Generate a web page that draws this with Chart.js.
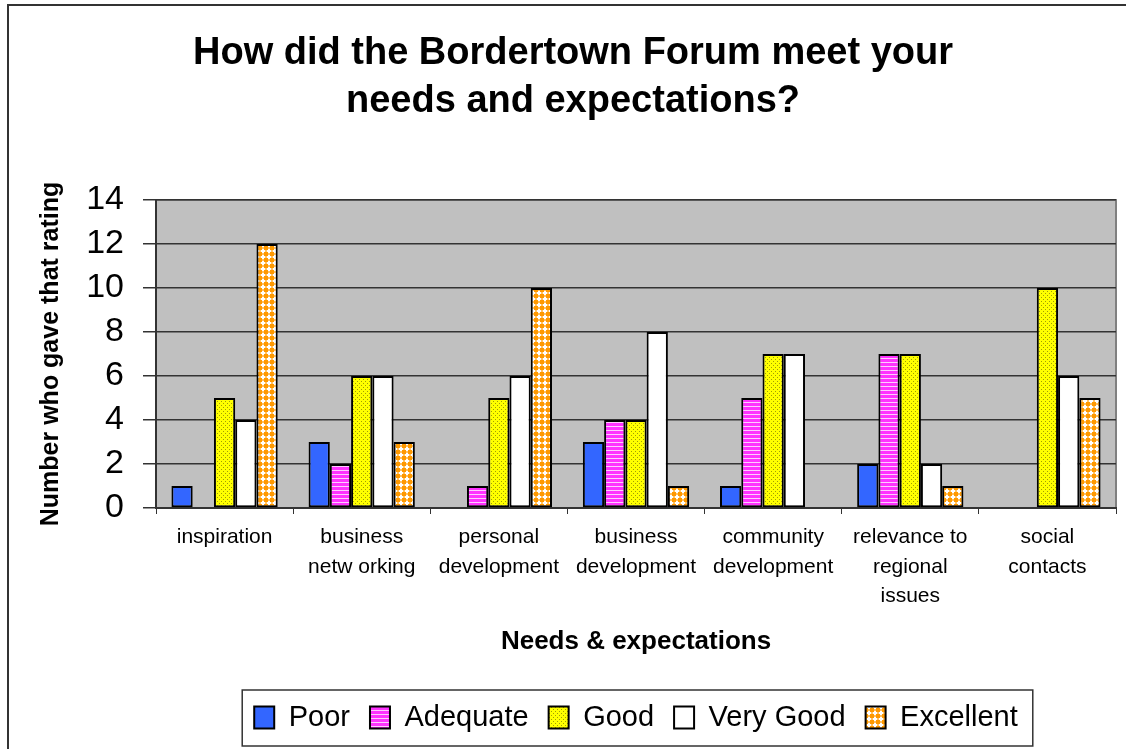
<!DOCTYPE html>
<html>
<head>
<meta charset="utf-8">
<script src="https://cdn.jsdelivr.net/npm/chart.js@4"></script>
<style>
  html, body { margin: 0; padding: 0; background: #fff; }
  #c { display: block; }
</style>
</head>
<body>
<canvas id="c" width="1126" height="749"></canvas>
<script>
// Categories and ratings
const cats = [
  'inspiration',
  ['business', 'netw orking'],
  ['personal', 'development'],
  ['business', 'development'],
  ['community', 'development'],
  ['relevance to', 'regional', 'issues'],
  ['social', 'contacts']
];
const poor      = [1, 3, 0, 3, 1, 2, 0];
const adequate  = [0, 2, 1, 4, 5, 7, 0];
const good      = [5, 6, 5, 4, 7, 7, 10];
const veryGood  = [4, 6, 6, 8, 7, 2, 6];
const excellent = [12, 3, 10, 1, 0, 1, 5];
const yTicks    = [0, 2, 4, 6, 8, 10, 12, 14];

const FONT = 'Liberation Sans, Arial, sans-serif';

// Small canvas patterns to mimic the old Excel fills
function mkPat(w, h, paint) {
  const cv = document.createElement('canvas');
  cv.width = w; cv.height = h;
  const g = cv.getContext('2d');
  paint(g);
  return g.createPattern(cv, 'repeat');
}
const ctx = document.getElementById('c').getContext('2d');

const patAdeq = mkPat(4, 4, g => {
  g.fillStyle = '#ff33ff'; g.fillRect(0, 0, 4, 4);
  g.fillStyle = '#ffccff'; g.fillRect(0, 2, 4, 1);
});
const patGood = mkPat(4, 4, g => {
  g.fillStyle = '#ffff00'; g.fillRect(0, 0, 4, 4);
  g.fillStyle = '#a0a000'; g.fillRect(1, 1, 1, 1); g.fillRect(3, 3, 1, 1);
});
const patExc = mkPat(6, 6, g => {
  g.fillStyle = '#ffffff'; g.fillRect(0, 0, 6, 6);
  g.fillStyle = '#ff9900'; g.fillRect(0, 0, 4, 4);
  g.fillStyle = '#ffc060'; g.fillRect(4, 1, 2, 2); g.fillRect(1, 4, 2, 2);
});

function ds(label, data, bg) {
  return {
    label: label,
    data: data,
    backgroundColor: bg,
    borderColor: '#000',
    borderWidth: 2,
    borderSkipped: false
  };
}

// frame, plot background and legend box
const deco = {
  id: 'deco',
  beforeDraw(chart) {
    const c = chart.ctx;
    const a = chart.chartArea;
    c.save();
    c.fillStyle = '#fff';
    c.fillRect(0, 0, chart.width, chart.height);
    c.strokeStyle = '#333';
    c.lineWidth = 2;
    c.strokeRect(8, 5, chart.width + 20, chart.height + 20);
    c.fillStyle = '#c0c0c0';
    c.fillRect(a.left, a.top, a.right - a.left, a.bottom - a.top);
    c.strokeStyle = '#808080';
    c.lineWidth = 2;
    c.beginPath();
    c.moveTo(a.left, a.top);
    c.lineTo(a.right, a.top);
    c.lineTo(a.right, a.bottom);
    c.stroke();
    c.restore();
  },
  afterDraw(chart) {
    const lg = chart.legend;
    if (!lg || !lg.legendHitBoxes || !lg.legendHitBoxes.length) return;
    const hb = lg.legendHitBoxes;
    let x0 = Infinity, x1 = -Infinity, y0 = Infinity, y1 = -Infinity;
    hb.forEach(b => {
      x0 = Math.min(x0, b.left); x1 = Math.max(x1, b.left + b.width);
      y0 = Math.min(y0, b.top); y1 = Math.max(y1, b.top + b.height);
    });
    const c = chart.ctx;
    c.save();
    c.strokeStyle = '#333';
    c.lineWidth = 1.5;
    c.strokeRect(x0 - 12, y0 - 13, x1 - x0 + 27, y1 - y0 + 27);
    c.restore();
  }
};

new Chart(ctx, {
  type: 'bar',
  data: {
    labels: cats,
    datasets: [
      ds('Poor', poor, '#3366ff'),
      ds('Adequate', adequate, patAdeq),
      ds('Good', good, patGood),
      ds('Very Good', veryGood, '#ffffff'),
      ds('Excellent', excellent, patExc)
    ]
  },
  options: {
    responsive: false,
    animation: false,
    datasets: { bar: { categoryPercentage: 0.775, barPercentage: 1 } },
    layout: { padding: { left: 30, right: 10, top: 0, bottom: 7 } },
    plugins: {
      title: {
        display: true,
        text: ['How did the Bordertown Forum meet your', 'needs and expectations?'],
        color: '#000',
        font: { family: FONT, size: 38, weight: 'bold', lineHeight: 1.263 },
        padding: { top: 30, bottom: 74 }
      },
      legend: {
        position: 'bottom',
        fullSize: false,
        labels: {
          color: '#000',
          font: { family: FONT, size: 29 },
          boxWidth: 20,
          boxHeight: 22,
          padding: 20
        }
      },
      tooltip: { enabled: false }
    },
    scales: {
      x: {
        afterFit: s => { s.height = 175; },
        grid: { display: true, drawOnChartArea: false, offset: true, color: '#333', tickLength: 6 },
        border: { color: '#333', width: 2 },
        ticks: {
          color: '#000',
          maxRotation: 0,
          autoSkip: false,
          padding: 9,
          font: { family: FONT, size: 21, lineHeight: 1.4 }
        },
        title: {
          display: true,
          text: 'Needs & expectations',
          color: '#000',
          font: { family: FONT, size: 26, weight: 'bold', lineHeight: 1.2 },
          padding: { top: 0, bottom: 26 }
        }
      },
      y: {
        min: 0,
        max: 14,
        afterFit: s => { s.width = 126; },
        afterBuildTicks: s => { s.ticks = yTicks.map(v => ({ value: v })); },
        grid: { color: '#333', lineWidth: 1.5, tickLength: 13 },
        border: { color: '#333', width: 2 },
        ticks: {
          color: '#000',
          padding: 19,
          font: { family: FONT, size: 34 }
        },
        title: {
          display: true,
          text: 'Number who gave that rating',
          color: '#000',
          font: { family: FONT, size: 25, weight: 'bold', lineHeight: 1.2 },
          padding: { top: 6, bottom: 0 }
        }
      }
    }
  },
  plugins: [deco]
});
</script>
</body>
</html>
